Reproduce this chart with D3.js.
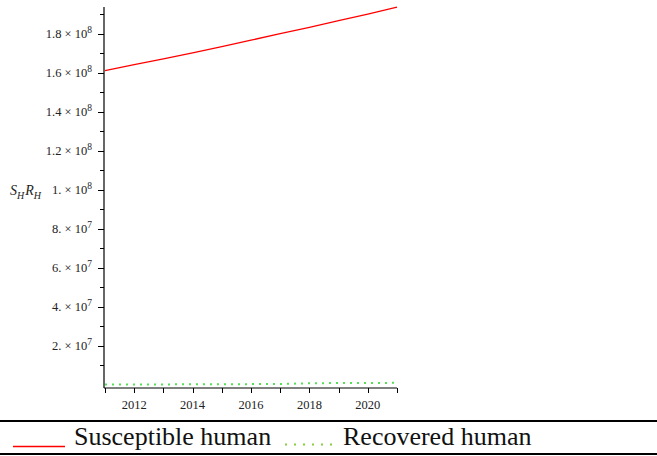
<!DOCTYPE html>
<html lang="en">
<head>
    <meta charset="UTF-8">
    <title>SH RH</title>
    <script src="https://d3js.org/d3.v7.min.js"></script>
    <style>
        body { margin: 0; background: #fff; }
        svg { display: block; font-family: "Liberation Serif", "Times New Roman", serif; }
    </style>
</head>
<body>
    <svg id="chart" width="657" height="456"></svg>
    <script>
    // data
    const years = [2011, 2012, 2013, 2014, 2015, 2016, 2017, 2018, 2019, 2020, 2021]
    const susceptible = [1.612e8, 1.642e8, 1.672e8, 1.703e8, 1.735e8, 1.768e8, 1.801e8, 1.834e8, 1.868e8, 1.902e8, 1.937e8]
    const recovered = [0.2e6, 0.25e6, 0.3e6, 0.35e6, 0.4e6, 0.45e6, 0.5e6, 0.9e6, 1.0e6, 1.05e6, 1.1e6]
    const yTicks = [2e7, 4e7, 6e7, 8e7, 1e8, 1.2e8, 1.4e8, 1.6e8, 1.8e8]
    const yMinor = [1e7, 3e7, 5e7, 7e7, 9e7, 1.1e8, 1.3e8, 1.5e8, 1.7e8, 1.9e8]
    const xTicks = [2012, 2014, 2016, 2018, 2020]
    const seriesNames = ["Susceptible human", "Recovered human"]

    const svg = d3.select('#chart')

    const x = d3.scaleLinear().domain([2011, 2021]).range([105, 397])
    const y = d3.scaleLinear().domain([-1.54e6, 1.938e8]).range([388, 7])

    // axes
    svg.append('line')
        .attr('x1', 104).attr('x2', 104).attr('y1', 7).attr('y2', 388)
        .attr('stroke', '#000').attr('stroke-width', 1.2)
    svg.append('line')
        .attr('x1', 104).attr('x2', 397).attr('y1', 388).attr('y2', 388)
        .attr('stroke', '#000').attr('stroke-width', 1.2)

    // y ticks
    svg.append('g').selectAll('line.maj')
        .data(yTicks).enter().append('line')
        .attr('x1', 98).attr('x2', 104)
        .attr('y1', d => Math.round(y(d)) + 0.5).attr('y2', d => Math.round(y(d)) + 0.5)
        .attr('stroke', '#000')
    svg.append('g').selectAll('line.min')
        .data(yMinor).enter().append('line')
        .attr('x1', 100).attr('x2', 104)
        .attr('y1', d => Math.round(y(d)) + 0.5).attr('y2', d => Math.round(y(d)) + 0.5)
        .attr('stroke', '#000')

    // y tick labels like "1.8 × 10^8"
    const ylab = svg.append('g').selectAll('text')
        .data(yTicks).enter().append('text')
        .attr('x', 92)
        .attr('y', d => y(d) + 4.5)
        .attr('text-anchor', 'end')
        .attr('font-size', 12.5)
        .attr('fill', '#222')
    ylab.each(function(d) {
        const e = Math.floor(Math.log10(d) + 1e-9)
        const m = d / Math.pow(10, e)
        const ms = Number.isInteger(m) ? m + '.' : String(+m.toFixed(1))
        const t = d3.select(this)
        t.append('tspan').text(ms + ' \u00d7 10')
        t.append('tspan').attr('dy', -5).attr('font-size', 9.5).text(e)
    })

    // x ticks
    svg.append('g').selectAll('line')
        .data(years).enter().append('line')
        .attr('x1', d => Math.round(x(d)) + 0.5).attr('x2', d => Math.round(x(d)) + 0.5)
        .attr('y1', 388).attr('y2', 393)
        .attr('stroke', '#000')
    svg.append('g').selectAll('text')
        .data(xTicks).enter().append('text')
        .attr('x', d => x(d))
        .attr('y', 409)
        .attr('text-anchor', 'middle')
        .attr('font-size', 12.5)
        .attr('fill', '#222')
        .text(d => d)

    // y axis title S_H R_H
    const yt = svg.append('text')
        .attr('x', 10).attr('y', 195)
        .attr('font-size', 14)
        .attr('font-style', 'italic')
        .attr('fill', '#222')
    yt.append('tspan').text('S')
    yt.append('tspan').attr('dy', 4).attr('font-size', 10).text('H')
    yt.append('tspan').attr('dy', -4).attr('dx', 1).text('R')
    yt.append('tspan').attr('dy', 4).attr('font-size', 10).text('H')

    // lines
    const line = d3.line().x((d, i) => x(years[i])).y(d => y(d))
    svg.append('path')
        .datum(susceptible)
        .attr('d', line)
        .attr('fill', 'none')
        .attr('stroke', '#ff0000')
        .attr('stroke-width', 1.3)
    svg.append('path')
        .datum(recovered)
        .attr('d', line)
        .attr('fill', 'none')
        .attr('stroke', '#55e055')
        .attr('stroke-width', 2)
        .attr('stroke-dasharray', '2,5')

    // legend box lines
    svg.append('line').attr('x1', 0).attr('x2', 657).attr('y1', 421).attr('y2', 421)
        .attr('stroke', '#000').attr('stroke-width', 2.2)
    svg.append('line').attr('x1', 0).attr('x2', 657).attr('y1', 454).attr('y2', 454)
        .attr('stroke', '#000').attr('stroke-width', 2.2)

    svg.append('line').attr('x1', 13).attr('x2', 65).attr('y1', 446.5).attr('y2', 446.5)
        .attr('stroke', '#ff0000').attr('stroke-width', 1.3)
    svg.append('text').attr('x', 74).attr('y', 445)
        .attr('font-size', 26).attr('fill', '#111').text(seriesNames[0])
    svg.append('line').attr('x1', 285).attr('x2', 334).attr('y1', 444.5).attr('y2', 444.5)
        .attr('stroke', '#88cc44').attr('stroke-width', 2)
        .attr('stroke-dasharray', '2,7')
    svg.append('text').attr('x', 343).attr('y', 445)
        .attr('font-size', 26).attr('fill', '#111').text(seriesNames[1])
    </script>
</body>
</html>
